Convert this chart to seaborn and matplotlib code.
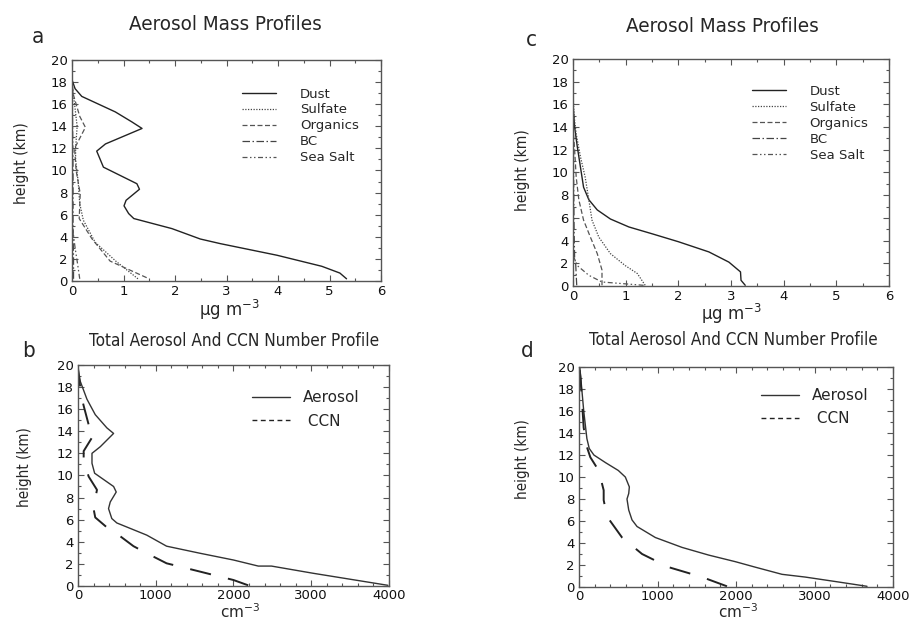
import numpy as np
import pandas as pd
import matplotlib
matplotlib.use("Agg")
import matplotlib.pyplot as plt
import seaborn as sns

# ---------------- data ----------------
# Panel a: aerosol mass profiles (ug m-3) vs height (km)
a_dust_h = [0.2, 0.72, 1.33, 2.33, 3.38, 3.8, 4.74, 5.65, 6.1, 6.8, 7.3, 8.3, 8.8, 10.3, 11.75, 12.4, 13.8, 14.4, 15.3, 16.7, 17.4, 18.2, 20.0]
a_dust_x = [5.33, 5.2, 4.85, 3.98, 2.88, 2.49, 1.94, 1.2, 1.1, 1.01, 1.05, 1.31, 1.26, 0.61, 0.48, 0.65, 1.36, 1.16, 0.84, 0.19, 0.06, 0.0, 0.0]
a_sulf_h = [0.2, 1.8, 3.5, 5.5, 7.0, 9.0, 11.0, 12.0, 14.0, 16.0, 17.0, 18.0, 20.0]
a_sulf_x = [1.28, 0.85, 0.45, 0.22, 0.15, 0.12, 0.07, 0.07, 0.1, 0.05, 0.02, 0.0, 0.0]
a_org_h = [0.3, 1.8, 3.8, 5.65, 7.9, 10.0, 12.0, 13.9, 14.9, 16.8, 18.0, 20.0]
a_org_x = [1.45, 0.74, 0.39, 0.14, 0.16, 0.08, 0.05, 0.26, 0.15, 0.03, 0.0, 0.0]
a_bc_h = [0.2, 2.0, 5.0, 10.0, 15.0, 20.0]
a_bc_x = [0.03, 0.03, 0.02, 0.02, 0.01, 0.0]
a_ss_h = [0.2, 1.5, 3.0, 4.9, 7.0, 20.0]
a_ss_x = [0.15, 0.11, 0.06, 0.01, 0.0, 0.0]

# Panel c: aerosol mass profiles (ug m-3)
c_dust_h = [0.06, 0.5, 1.24, 2.1, 3.0, 3.9, 4.6, 5.2, 5.9, 6.7, 7.6, 8.7, 10.5, 12.3, 14.0, 16.0, 20.0]
c_dust_x = [3.27, 3.19, 3.18, 2.96, 2.58, 2.0, 1.5, 1.06, 0.71, 0.46, 0.3, 0.2, 0.14, 0.08, 0.03, 0.0, 0.0]
c_sulf_h = [0.06, 1.1, 1.8, 2.85, 4.3, 5.8, 7.6, 9.6, 11.4, 13.4, 15.0, 17.0, 20.0]
c_sulf_x = [1.37, 1.22, 0.99, 0.71, 0.49, 0.36, 0.3, 0.23, 0.14, 0.06, 0.02, 0.0, 0.0]
c_org_h = [0.06, 1.4, 2.85, 4.3, 5.8, 7.6, 9.6, 12.0, 14.0, 20.0]
c_org_x = [0.55, 0.55, 0.46, 0.33, 0.2, 0.11, 0.06, 0.03, 0.0, 0.0]
c_bc_h = [0.06, 1.0, 2.0, 2.5, 5.0, 10.0, 20.0]
c_bc_x = [0.07, 0.06, 0.05, 0.03, 0.02, 0.01, 0.0]
c_ss_h = [0.06, 0.35, 0.94, 1.8, 2.6, 5.0, 20.0]
c_ss_x = [1.34, 0.55, 0.3, 0.08, 0.01, 0.0, 0.0]

# Panel b: number concentration (cm-3)
b_aer_h = [0.06, 1.15, 1.8, 1.8, 2.35, 2.96, 3.6, 4.6, 5.7, 6.1, 7.0, 7.6, 8.5, 9.0, 10.2, 11.1, 12.0, 12.6, 13.8, 14.3, 15.5, 16.9, 18.5, 19.7]
b_aer_x = [3987, 3025, 2490, 2320, 2000, 1570, 1140, 885, 500, 435, 393, 415, 492, 458, 214, 180, 180, 287, 458, 372, 222, 115, 30, 0]
b_ccn_h = [0.06, 0.54, 1.3, 1.75, 2.05, 2.96, 3.6, 4.5, 5.3, 6.2, 7.0, 8.7, 9.9, 11.4, 12.2, 13.9, 14.6, 16.3, 17.2, 19.1, 19.7]
b_ccn_x = [2190, 2000, 1570, 1313, 1140, 885, 714, 543, 372, 222, 200, 244, 137, 73, 73, 222, 137, 73, 43, 8, 0]

# Panel d: number concentration (cm-3)
d_aer_h = [0.06, 0.45, 0.9, 1.15, 1.8, 2.3, 2.9, 3.6, 4.5, 5.5, 6.1, 7.0, 8.0, 8.5, 9.1, 10.0, 10.6, 11.3, 12.0, 12.6, 13.5, 16.0, 18.0, 20.0]
d_aer_x = [3669, 3308, 2883, 2586, 2246, 1992, 1652, 1312, 972, 739, 675, 633, 611, 633, 641, 590, 500, 340, 190, 130, 100, 60, 35, 10]
d_ccn_h = [0.06, 0.9, 1.8, 3.0, 4.5, 6.4, 7.9, 8.8, 10.6, 11.8, 12.7, 14.5, 16.9, 19.1, 20.0]
d_ccn_x = [1885, 1567, 1142, 803, 548, 357, 314, 314, 250, 144, 102, 59, 38, 17, 4]

mass_labels = ["Dust", "Sulfate", "Organics", "BC", "Sea Salt"]
num_labels = ["Aerosol", " CCN"]

# ---------------- style ----------------
sns.set_style("white")
plt.rcParams["font.family"] = ["DejaVu Sans"]

fig = plt.figure(figsize=(9.09, 6.21), dpi=100)
ax_a = fig.add_axes([0.0792, 0.5475, 0.340, 0.356])
ax_c = fig.add_axes([0.6304, 0.5395, 0.3476, 0.3655])
ax_b = fig.add_axes([0.0858, 0.0564, 0.342, 0.356])
ax_d = fig.add_axes([0.637, 0.0548, 0.3454, 0.354])

mass_styles = [
    dict(color="#222222", lw=1.0, ls="-"),
    dict(color="#444444", lw=0.9, ls=(0, (1, 1.2))),
    dict(color="#555555", lw=0.9, ls=(0, (4, 2))),
    dict(color="#444444", lw=0.9, ls=(0, (6, 2, 1.2, 2))),
    dict(color="#555555", lw=0.9, ls=(0, (4, 2, 1.2, 2, 1.2, 2))),
]


def draw_mass(ax, series):
    for (x, h), lab, st in zip(series, mass_labels, mass_styles):
        df = pd.DataFrame({"x": x, "h": h})
        sns.lineplot(data=df, x="x", y="h", sort=False, estimator=None, ax=ax,
                     label=lab, color=st["color"], lw=st["lw"], linestyle=st["ls"])
    ax.set_xlim(0, 6)
    ax.set_ylim(0, 20)
    ax.set_xticks(np.arange(0, 7, 1))
    ax.set_xticks(np.arange(0, 6.01, 0.5), minor=True)


def draw_num(ax, aer, ccn):
    df1 = pd.DataFrame({"x": aer[0], "h": aer[1]})
    df2 = pd.DataFrame({"x": ccn[0], "h": ccn[1]})
    sns.lineplot(data=df1, x="x", y="h", sort=False, estimator=None, ax=ax,
                 label=num_labels[0], color="#333333", lw=1.0)
    sns.lineplot(data=df2, x="x", y="h", sort=False, estimator=None, ax=ax,
                 label=num_labels[1], color="#222222", lw=1.4, linestyle=(0, (11, 9)))
    ax.set_xlim(0, 4000)
    ax.set_ylim(0, 20)
    ax.set_xticks(np.arange(0, 4001, 1000))
    ax.set_xticks(np.arange(0, 4001, 200), minor=True)


draw_mass(ax_a, [(a_dust_x, a_dust_h), (a_sulf_x, a_sulf_h), (a_org_x, a_org_h),
                 (a_bc_x, a_bc_h), (a_ss_x, a_ss_h)])
draw_mass(ax_c, [(c_dust_x, c_dust_h), (c_sulf_x, c_sulf_h), (c_org_x, c_org_h),
                 (c_bc_x, c_bc_h), (c_ss_x, c_ss_h)])
draw_num(ax_b, (b_aer_x, b_aer_h), (b_ccn_x, b_ccn_h))
draw_num(ax_d, (d_aer_x, d_aer_h), (d_ccn_x, d_ccn_h))

for ax in [ax_a, ax_b, ax_c, ax_d]:
    ax.set_yticks(np.arange(0, 21, 2))
    ax.set_yticks(np.arange(0, 21, 1), minor=True)
    ax.set_xlabel("")
    ax.set_ylabel("")
    for sp in ax.spines.values():
        sp.set_color("#555555")
        sp.set_linewidth(1.0)
    ax.tick_params(which="both", direction="in", top=True, right=True,
                   bottom=True, left=True, color="#555555", width=0.8)
    ax.tick_params(which="major", length=4, labelsize=9.5, pad=3, labelcolor="#111111")
    ax.tick_params(which="minor", length=2.5)
for ax in [ax_b, ax_d]:
    ax.tick_params(axis="x", which="major", pad=2)

# legends
leg_kw = dict(frameon=False, borderpad=0, borderaxespad=0, loc="upper left")
ax_a.legend(bbox_to_anchor=(0.55, 0.875), fontsize=9.5, handlelength=2.6,
            handletextpad=1.8, labelspacing=0.22, **leg_kw)
ax_c.legend(bbox_to_anchor=(0.565, 0.885), fontsize=9.5, handlelength=2.6,
            handletextpad=1.8, labelspacing=0.22, **leg_kw)
for ax, anchor in [(ax_b, (0.56, 0.885)), (ax_d, (0.58, 0.905))]:
    leg = ax.legend(bbox_to_anchor=anchor, fontsize=11, handlelength=2.5,
                    handletextpad=0.8, labelspacing=0.55, **leg_kw)
    hl = leg.get_lines()
    hl[1].set_linestyle((0, (3.5, 2.5)))
    hl[1].set_linewidth(1.0)

# titles, panel letters, axis labels
W, H = 909.0, 621.0
renderer = fig.canvas.get_renderer()


def ftext(x, y, s, target=None, rotation=0, **kw):
    t = fig.text(x / W, 1 - y / H, s, ha="center", va="center",
                 rotation=rotation, **kw)
    if target is not None:
        bb = t.get_window_extent(renderer=renderer)
        cur = bb.height if rotation == 90 else bb.width
        t.set_fontsize(t.get_fontsize() * target / cur)
    return t


cond = dict(family=["DejaVu Sans"], fontstretch="condensed")
ftext(225, 25, "Aerosol Mass Profiles", target=194, fontsize=14, **cond)
ftext(722, 27, "Aerosol Mass Profiles", target=194, fontsize=14, **cond)
ftext(234, 341, "Total Aerosol And CCN Number Profile", target=292, fontsize=14, **cond)
ftext(733, 340, "Total Aerosol And CCN Number Profile", target=290, fontsize=14, **cond)

ftext(38, 37, "a", fontsize=16, **cond)
ftext(531, 40, "c", fontsize=16, **cond)
ftext(28, 351, "b", fontsize=16, **cond)
ftext(527, 351, "d", fontsize=16, **cond)

ftext(22, 163, "height (km)", target=82, rotation=90, fontsize=14, **cond)
ftext(523, 170, "height (km)", target=82, rotation=90, fontsize=14, **cond)
ftext(25, 467, "height (km)", target=80, rotation=90, fontsize=14, **cond)
ftext(523, 459, "height (km)", target=80, rotation=90, fontsize=14, **cond)

ftext(230, 310, "μg m$^{-3}$", fontsize=12)
ftext(732, 314, "μg m$^{-3}$", fontsize=12)
ftext(240, 612, "cm$^{-3}$", fontsize=11)
ftext(738, 612, "cm$^{-3}$", fontsize=11)

fig.savefig("out.png", dpi=100)
